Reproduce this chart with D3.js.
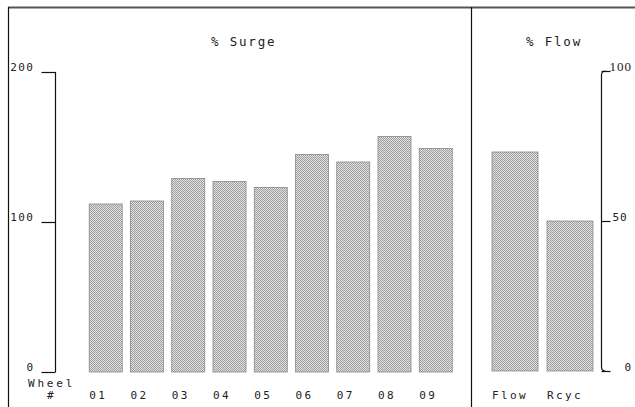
<!DOCTYPE html>
<html><head><meta charset="utf-8">
<script src="https://cdn.jsdelivr.net/npm/d3@7/dist/d3.min.js"></script>
<style>
html,body{margin:0;padding:0;background:#fff;}
svg text{font-family:"DejaVu Sans Mono",monospace;font-size:11px;fill:#222;letter-spacing:2.4px;}
</style></head>
<body><svg id="c" width="635" height="407"></svg>
<script>
const wheels = ["01","02","03","04","05","06","07","08","09"];
const surge = [112,114,129,127,123,145,140,157,149];
const surgeTicks = [0,100,200];
const flowCats = ["Flow","Rcyc"];
const flowVals = [73,50];
const flowTicks = [0,50,100];

const svg = d3.select("#c");
const defs = svg.append("defs");
const pat = defs.append("pattern").attr("id","dots").attr("patternUnits","userSpaceOnUse")
  .attr("width",2).attr("height",2);
pat.append("rect").attr("width",2).attr("height",2).attr("fill","#e4e4e4");
pat.append("rect").attr("x",0).attr("y",0).attr("width",1).attr("height",1).attr("fill","#9c9c9c");
pat.append("rect").attr("x",1).attr("y",1).attr("width",1).attr("height",1).attr("fill","#9c9c9c");

// frame
svg.append("line").attr("x1",8).attr("x2",635).attr("y1",7.5).attr("y2",7.5).attr("stroke","#555").attr("stroke-width",2);
svg.append("line").attr("x1",8.5).attr("x2",8.5).attr("y1",7).attr("y2",407).attr("stroke","#111").attr("stroke-width",1.2);
svg.append("line").attr("x1",471.5).attr("x2",471.5).attr("y1",7).attr("y2",407).attr("stroke","#111").attr("stroke-width",1.2);

// left panel
const yL = d3.scaleLinear().domain([0,200]).range([372,72]);
const xL = d3.scaleBand().domain(wheels).range([85.1,456.4]).paddingInner(0.2).paddingOuter(0.1);

svg.append("g").selectAll("rect").data(surge).join("rect")
  .attr("x",(d,i)=>xL(wheels[i])).attr("width",xL.bandwidth())
  .attr("y",d=>yL(d)).attr("height",d=>yL(0)-yL(d))
  .attr("fill","url(#dots)").attr("stroke","#888").attr("stroke-width",0.8);

const axL = svg.append("g").attr("transform","translate(55.5,0)")
  .call(d3.axisLeft(yL).tickValues(surgeTicks).tickSize(14).tickFormat(d3.format("d")));
axL.select(".domain").attr("d",`M0,${yL(200)}V${yL(0)}`).attr("stroke","#111").attr("stroke-width",1.2);
axL.selectAll(".tick line").attr("stroke","#111").attr("stroke-width",1.2);
axL.selectAll(".tick text").attr("x",-21).attr("dy","-0.15em").attr("text-anchor","end")
  .style("font-size","11px").style("letter-spacing","1.5px");

svg.append("g").selectAll("text").data(wheels).join("text")
  .attr("x",d=>xL(d)).attr("y",398.5).text(d=>d).style("font-size","11px");
svg.append("text").attr("x",28).attr("y",387).text("Wheel").style("letter-spacing","2.8px");
svg.append("text").attr("x",47).attr("y",399).text("#");
svg.append("text").attr("x",211).attr("y",46).text("% Surge").style("font-size","12.5px").style("letter-spacing","1.8px");

// right panel
const yR = d3.scaleLinear().domain([0,100]).range([371,71]);
const xR = d3.scaleBand().domain(flowCats).range([487.5,597.5]).paddingInner(0.164).paddingOuter(0.082);
svg.append("g").selectAll("rect").data(flowVals).join("rect")
  .attr("x",(d,i)=>xR(flowCats[i])).attr("width",xR.bandwidth())
  .attr("y",d=>yR(d)).attr("height",d=>yR(0)-yR(d))
  .attr("fill","url(#dots)").attr("stroke","#888").attr("stroke-width",0.8);

const axR = svg.append("g").attr("transform","translate(601.5,0)")
  .call(d3.axisRight(yR).tickValues(flowTicks).tickSize(9).tickFormat(d3.format("d")));
axR.select(".domain").attr("d",`M4,${yR(100)}Q0,${yR(100)} 0,${yR(100)+4}V${yR(0)-4}Q0,${yR(0)} 4,${yR(0)}`)
  .attr("fill","none").attr("stroke","#111").attr("stroke-width",1.2);
axR.selectAll(".tick line").attr("stroke","#111").attr("stroke-width",1.2);
axR.selectAll(".tick text").attr("x",d=>d===100?8:(d===50?11:23)).attr("dy","-0.05em")
  .style("letter-spacing","1px")
  .style("font-family",d=>d===100?"'Liberation Serif',serif":"'DejaVu Sans Mono',monospace")
  .style("font-size",d=>d===100?"13px":"11px");

svg.append("g").selectAll("text").data(flowCats).join("text")
  .attr("x",d=>xR(d)).attr("y",398.5).text(d=>d);
svg.append("text").attr("x",526).attr("y",46).text("% Flow").style("font-size","12.5px").style("letter-spacing","1.8px");
</script></body></html>
